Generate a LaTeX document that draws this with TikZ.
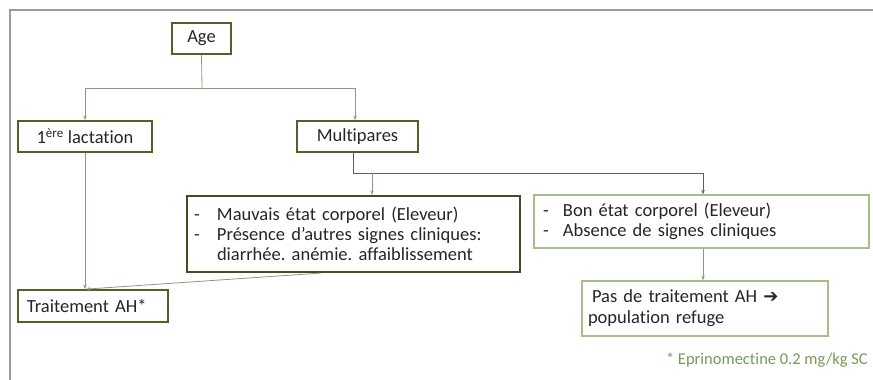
\documentclass[tikz,border=0pt]{standalone}
\usepackage{fontspec}
\setmainfont{Carlito}[Ligatures=NoCommon]
\newfontfamily\symfont{DejaVu Sans}
\usetikzlibrary{arrows.meta}
\definecolor{boxdark}{HTML}{4F6228}
\definecolor{boxdarker}{HTML}{3E4F22}
\definecolor{boxlight}{HTML}{A6BF8A}
\definecolor{txt}{HTML}{262626}
\definecolor{conncol}{HTML}{8C9A80}
\definecolor{conndark}{HTML}{5E5E5E}
\definecolor{footgreen}{HTML}{79985C}
\definecolor{framegray}{HTML}{9A9A9A}
\frenchspacing
\begin{document}
\begin{tikzpicture}[x=1pt,y=-1pt,
  box/.style={draw=boxdark, line width=1.8pt, fill=white, text=txt,
    font=\fontsize{18.5}{20}\selectfont, inner ysep=0pt},
  lightbox/.style={box, draw=boxlight, line width=1.4pt},
  conn/.style={draw=conncol, line width=0.8pt},
  conn2/.style={draw=conndark, line width=0.8pt},
  arr/.style={-{Stealth[length=4.5pt,width=3.5pt]}}]
\useasboundingbox (0,0) rectangle (873,380);
\draw[framegray, line width=1.3pt] (10,380) -- (10,10) -- (873,10);

\node[box, minimum width=59, minimum height=31] (age) at (201.5,38.5) {Age};
\node[box, minimum width=134, minimum height=31] (lact) at (85,136.5) {1\textsuperscript{ère} lactation};
\node[box, minimum width=121, minimum height=31] (multi) at (357.5,136.5) {Multipares};
\node[box, draw=boxdarker, line width=2.2pt, text width=319pt, inner xsep=7pt, align=left, minimum height=76] (mauv) at (353.5,234)
  {\makebox[23pt][l]{-}Mauvais état corporel (Eleveur)\\
   \makebox[23pt][l]{-}Présence d’autres signes cliniques:\\
   \hspace*{23pt}diarrhée. anémie. affaiblissement};
\node[lightbox, text width=317pt, inner xsep=9pt, align=left, minimum height=53] (bon) at (701.5,221.5)
  {\makebox[20pt][l]{-}Bon état corporel (Eleveur)\\
   \makebox[20pt][l]{-}Absence de signes cliniques};
\node[box, text width=132pt, inner xsep=9pt, align=left, minimum height=32] (trait) at (93,306) {Traitement AH*};
\node[lightbox, text width=234pt, inner xsep=6pt, align=left, minimum height=55, font=\fontsize{18.5}{21}\selectfont] (pas) at (705,308.5)
  {\hspace*{4pt}Pas de traitement AH {\symfont\fontsize{18}{18}\selectfont ➔}\\population refuge};
\node[anchor=east, text=footgreen, font=\fontsize{16.5}{18}\selectfont, inner sep=0pt] (foot) at (868,360) {* Eprinomectine 0.2 mg/kg SC};

\coordinate (j1) at (202,88);
\coordinate (j2) at (353,173);
\coordinate (j3) at (372,173);
\draw[conn] (age.south) -- (j1);
\draw[conn,arr] (j1) -| (lact.north);
\draw[conn,arr] (j1) -| ([xshift=-2.5pt]multi.north);
\draw[conn2,arr] ([xshift=-4.5pt]multi.south) -- (j2) -| ([xshift=1.5pt]bon.north);
\draw[conn,arr] (j3) -- (j3 |- mauv.north);
\draw[conn,arr] (lact.south) -- (lact.south |- trait.north);
\draw[conn,arr] ([xshift=-33pt]mauv.south) -- ([xshift=-7pt]trait.north);
\draw[conn,arr] ([xshift=1.5pt]bon.south) -- ([xshift=1.5pt]bon.south |- pas.north);
\end{tikzpicture}
\end{document}
